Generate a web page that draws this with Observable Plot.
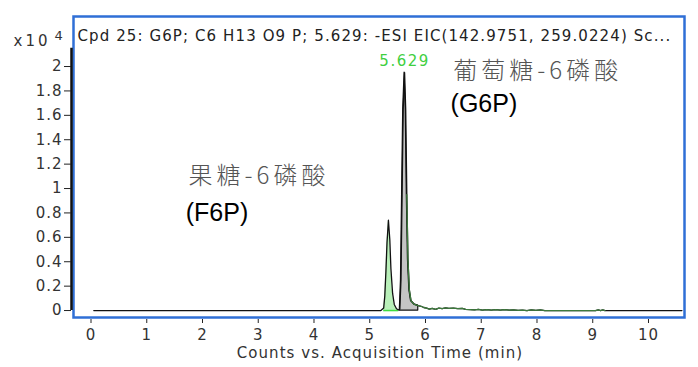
<!DOCTYPE html>
<html>
<head>
<meta charset="utf-8">
<script src="https://cdn.jsdelivr.net/npm/d3@7"></script>
<script src="https://cdn.jsdelivr.net/npm/@observablehq/plot@0.6"></script>
<style>
  html, body { margin: 0; padding: 0; background: #fff; }
  #chart { width: 698px; height: 367px; }
  svg { font-family: "DejaVu Sans", sans-serif; }
  g[aria-label="y-axis tick label"] text { letter-spacing: 1px; }
  g[aria-label="x-axis tick label"] text { letter-spacing: 1px; }
</style>
</head>
<body>
<div id="chart"></div>
<script>
// ---- data (intensity in units of 10^4 counts) ----
const titleText = "Cpd 25: G6P; C6 H13 O9 P; 5.629: -ESI EIC(142.9751, 259.0224) Sc...";
const xLabel = "Counts vs. Acquisition Time (min)";
const xTicks = [0, 1, 2, 3, 4, 5, 6, 7, 8, 9, 10];
const yTicks = [0, 0.2, 0.4, 0.6, 0.8, 1, 1.2, 1.4, 1.6, 1.8, 2];

const time = [0.05, 5.20, 5.25, 5.27, 5.29, 5.31, 5.335, 5.36, 5.38, 5.41, 5.44, 5.48, 5.52,
  5.54, 5.56, 5.58, 5.60, 5.625, 5.645, 5.665, 5.685, 5.71, 5.74, 5.80, 5.87, 5.92, 5.97,
  6.02, 6.07, 6.12, 6.18, 6.24, 6.30, 6.36, 6.42, 6.50, 6.58, 6.66, 6.72, 6.80, 6.88, 6.95,
  7.02, 7.10, 7.18, 7.26, 7.34, 7.42, 7.50, 7.58, 7.66, 7.74, 7.82, 7.90, 7.98, 8.06, 8.14,
  9.05, 9.10, 9.14, 9.18, 9.22, 10.60];
const intensity = [0, 0, 0.02, 0.12, 0.32, 0.56, 0.74, 0.58, 0.34, 0.14, 0.05, 0.015, 0.004,
  0.01, 0.25, 0.95, 1.65, 1.95, 1.65, 0.95, 0.42, 0.17, 0.08, 0.05, 0.04, 0.035, 0.025,
  0.02, 0.012, 0.018, 0.01, 0.02, 0.015, 0.022, 0.018, 0.02, 0.016, 0.018, 0.01, 0.008, 0.006, 0.01,
  0.004, 0.008, 0.004, 0.007, 0.003, 0.008, 0.003, 0.006, 0.001, 0.004, 0.0, 0.006, 0.002, 0.005, 0.0,
  0, 0.006, 0, 0.006, 0, 0];

const peakNames = ["F6P", "G6P"];
const peakStart = [5.25, 5.54];
const peakEnd = [5.52, 5.87];
const peakApex = [5.335, 5.625];
const peakHeight = [0.74, 1.95];
const apexLabel = ["", "5.629"];

const annText = ["葡萄糖-6磷酸", "(G6P)", "果糖-6磷酸", "(F6P)"];

// ---- build tables ----
const trace = time.map((t, i) => ({t, v: intensity[i]}));
const f6p = trace.filter(d => d.t >= peakStart[0] && d.t <= peakEnd[0]);
const g6p = trace.filter(d => d.t >= peakStart[1] && d.t <= peakEnd[1]);
const tail = trace.filter(d => d.t >= 5.66 && d.t <= 9.3);
const apex = peakNames.map((n, i) => ({name: n, t: peakApex[i], v: peakHeight[i], label: apexLabel[i]}));

const fmt = d => String(+d.toFixed(1));
const cjk = "'Noto Sans CJK SC', sans-serif";
const latin = "'DejaVu Sans', sans-serif";

const plot = Plot.plot({
  width: 698,
  height: 367,
  marginLeft: 73,
  marginRight: 14,
  marginTop: 16,
  marginBottom: 50,
  x: {domain: [-0.314, 10.646]},
  y: {domain: [-0.057, 2.41]},
  style: {fontFamily: latin, background: "#fff"},
  marks: [
    // peak fills
    Plot.areaY(f6p, {x: "t", y: "v", fill: "#b9f0b9"}),
    Plot.ruleY([0], {x1: peakStart[0], x2: peakEnd[0], stroke: "#3fdc3f", strokeWidth: 1.5}),
    Plot.areaY(g6p, {x: "t", y: "v", fill: "#c4c4c4", stroke: "#111", strokeWidth: 1.2}),
    // chromatogram
    Plot.line(trace, {x: "t", y: "v", stroke: "#111", strokeWidth: 1.3}),
    Plot.line(tail, {x: "t", y: "v", stroke: "#3d7a3d", strokeWidth: 1.3}),
    // apex label
    Plot.text(apex.filter(d => d.label), {x: "t", y: "v", text: "label", dy: -11, dx: 0,
      fill: "#3fcf3f", fontSize: 15, fontFamily: latin}),
    // annotations
    Plot.text([annText[0]], {x: 6.50, y: 1.96, text: d => d, textAnchor: "start",
      fontFamily: cjk, fontWeight: 300, fontSize: 24, fill: "#555"}),
    Plot.text([annText[1]], {x: 6.45, y: 1.69, text: d => d, textAnchor: "start",
      fontFamily: "'Liberation Sans', Arial, sans-serif", fontSize: 25, fill: "#000"}),
    Plot.text([annText[2]], {x: 1.75, y: 1.10, text: d => d, textAnchor: "start",
      fontFamily: cjk, fontWeight: 300, fontSize: 24, fill: "#555"}),
    Plot.text([annText[3]], {x: 1.70, y: 0.80, text: d => d, textAnchor: "start",
      fontFamily: "'Liberation Sans', Arial, sans-serif", fontSize: 25, fill: "#000"}),
    // frame and title
    Plot.frame({stroke: "#2f6fd6", strokeWidth: 2.5}),
    Plot.text([titleText], {frameAnchor: "top-left", text: d => d, dx: 4, dy: 14,
      fontSize: 15, fill: "#222"}),
    // y axis
    Plot.ruleX([-0.314], {y1: 0, y2: 2.15, dx: -2, stroke: "#111", strokeWidth: 2.5}),
    Plot.axisY({ticks: yTicks, tickFormat: fmt, tickSize: 7, tickPadding: 2, dx: -2,
      fontSize: 15, color: "#333", stroke: "#222", label: null}),
    Plot.text(["x10"], {frameAnchor: "top-left", text: d => d, dx: -60, dy: 19,
      textAnchor: "start", fontSize: 15, fill: "#333"}),
    Plot.text(["4"], {frameAnchor: "top-left", text: d => d, dx: -19, dy: 14,
      textAnchor: "start", fontSize: 13, fill: "#333"}),
    // x axis
    Plot.axisX({ticks: xTicks, tickSize: 4, tickPadding: 6, dy: 2, fontSize: 15,
      color: "#333", stroke: "#222", label: null}),
    Plot.text([xLabel], {frameAnchor: "bottom", text: d => d, dy: 40, dx: 1,
      fontSize: 15, fill: "#333"})
  ]
});

// widen text spacing to match the reference rendering
const spacing = new Map([
  [titleText, "1.1px"],
  [xLabel, "1.05px"],
  [annText[0], "4px"],
  [annText[2], "4px"],
  ["5.629", "1.5px"],
  ["x10", "3px"]
]);
d3.select(plot).selectAll("text").each(function () {
  const s = spacing.get(this.textContent);
  if (s) this.style.letterSpacing = s;
});
document.getElementById("chart").appendChild(plot);
</script>
</body>
</html>
